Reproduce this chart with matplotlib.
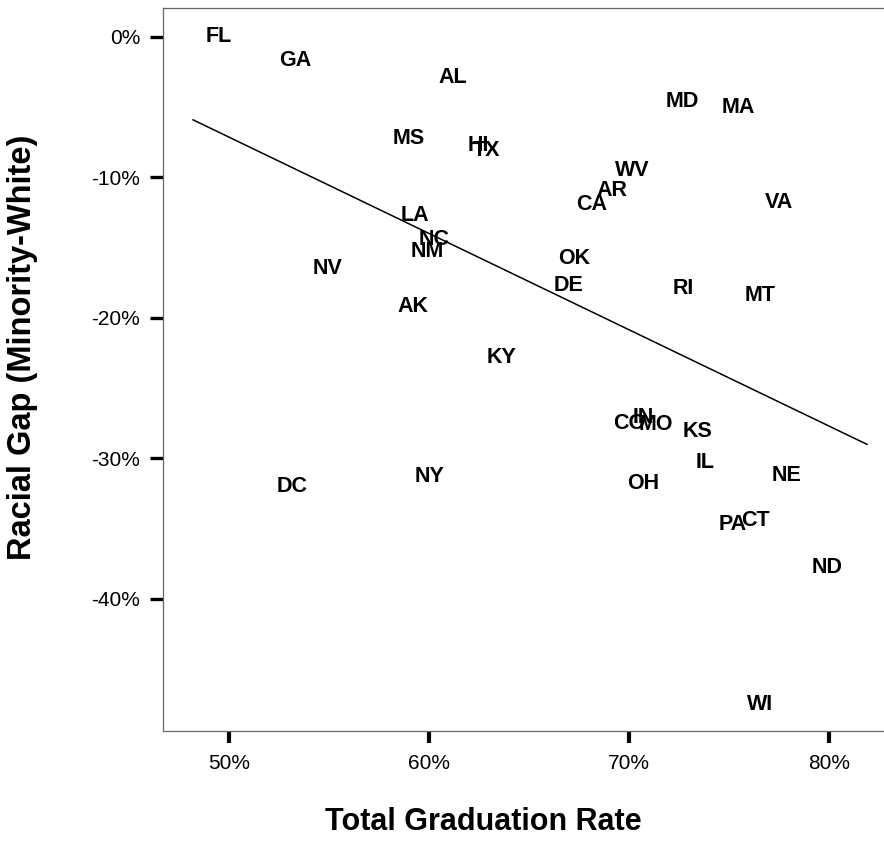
import matplotlib
matplotlib.use("Agg")
import matplotlib.pyplot as plt

# ================= DATA ================= #
states = ["FL", "GA", "AL", "MD", "MA", "MS", "HI", "TX", "WV", "AR",
          "CA", "VA", "LA", "NC", "NM", "NV", "OK", "DE", "RI", "MT",
          "AK", "KY", "CO", "IN", "MO", "KS", "IL", "NE", "NY", "DC",
          "OH", "PA", "CT", "ND", "WI"]
grad_rate = [49.5, 53.3, 61.2, 72.65, 75.45, 59.0, 62.45, 62.85, 70.15, 69.15,
             68.15, 77.5, 59.3, 60.25, 59.9, 54.95, 67.25, 66.95, 72.7, 76.55,
             59.2, 63.65, 70.0, 70.7, 71.35, 73.4, 73.8, 77.85, 60.05, 53.15,
             70.7, 75.2, 76.3, 79.9, 76.55]
racial_gap = [0.0, -1.7, -2.9, -4.6, -5.0, -7.2, -7.7, -8.1, -9.5, -10.9,
              -11.9, -11.8, -12.7, -14.4, -15.3, -16.5, -15.8, -17.7, -17.9, -18.4,
              -19.2, -22.8, -27.5, -27.1, -27.6, -28.1, -30.3, -31.2, -31.3, -32.0,
              -31.8, -34.7, -34.4, -37.8, -47.5]

# fitted line
fit_x = [48.2, 81.9]
fit_y = [-5.9, -29.0]

x_ticks = [50, 60, 70, 80]
x_tick_labels = ["50%", "60%", "70%", "80%"]
y_ticks = [0, -10, -20, -30, -40]
y_tick_labels = ["0%", "-10%", "-20%", "-30%", "-40%"]

FONT = ["Liberation Sans", "DejaVu Sans"]

# ================= PLOT ================= #
fig = plt.figure(figsize=(8.84, 8.48), dpi=100)
ax = fig.add_axes([0.1844, 0.138, 0.8156, 0.8526])

ax.plot(fit_x, fit_y, color="black", lw=1.1)

for s, x, y in zip(states, grad_rate, racial_gap):
    ax.text(x, y, s, ha="center", va="center", fontsize=15.5,
            fontweight="bold", family=FONT, color="black")

ax.set_xlim(46.7, 82.75)
ax.set_ylim(-49.4, 2.06)

ax.set_xticks(x_ticks)
ax.set_xticklabels(x_tick_labels, family=FONT, fontsize=15)
ax.set_yticks(y_ticks)
ax.set_yticklabels(y_tick_labels, family=FONT, fontsize=15)

ax.tick_params(axis="x", direction="out", length=8.6, width=3, pad=8)
ax.tick_params(axis="y", direction="out", length=9.4, width=2.4, pad=7)

for side in ["left", "bottom", "top"]:
    ax.spines[side].set_color("#666666")
    ax.spines[side].set_linewidth(0.9)
ax.spines["right"].set_visible(False)

ax.set_xlabel("Total Graduation Rate", family=FONT, fontsize=22, fontweight="bold")
ax.xaxis.set_label_coords(0.444, -0.105)
ax.set_ylabel("Racial Gap (Minority-White)", family=FONT, fontsize=23.5, fontweight="bold")
ax.yaxis.set_label_coords(-0.174, 0.531)

fig.savefig("out.png", dpi=100)
